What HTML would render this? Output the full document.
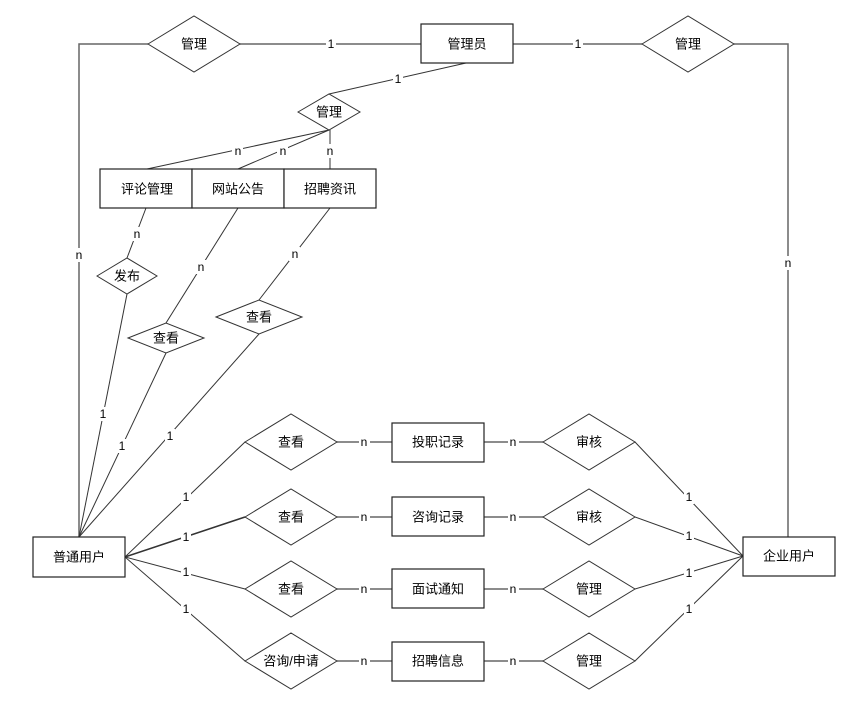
<!DOCTYPE html>
<html><head><meta charset="utf-8"><style>
html,body{margin:0;padding:0;background:#fff;}
svg{display:block;}
text{font-family:"Liberation Sans","Noto Sans CJK SC",sans-serif;font-size:13px;fill:#000;dominant-baseline:central;text-anchor:middle;}
.l{stroke:#333;stroke-width:1;fill:none;}
.g{stroke:#666;stroke-width:1.5;fill:none;}
.box{fill:#fff;stroke:#222;stroke-width:1.2;}
.d{fill:#fff;stroke:#333;stroke-width:1;}
.lb{font-size:12px;}
</style></head><body>
<svg width="868" height="704" viewBox="0 0 868 704" xmlns="http://www.w3.org/2000/svg">
<!-- outer lines -->
<polyline class="g" points="148,44 79,44 79,537"/>
<polyline class="g" points="734,44 788,44 788,537"/>
<line class="g" x1="240" y1="44" x2="421" y2="44"/>
<line class="g" x1="513" y1="44" x2="642" y2="44"/>
<line class="l" x1="466" y1="63" x2="329" y2="94"/>
<line class="l" x1="329" y1="130" x2="147" y2="169"/>
<line class="l" x1="329" y1="130" x2="238" y2="169"/>
<line class="l" x1="330" y1="130" x2="330" y2="169"/>
<line class="l" x1="146" y1="208" x2="127" y2="258"/>
<line class="l" x1="238" y1="208" x2="166" y2="323"/>
<line class="l" x1="330" y1="208" x2="259" y2="300"/>
<line class="l" x1="127" y1="294" x2="79" y2="537"/>
<line class="l" x1="166" y1="353" x2="79" y2="537"/>
<line class="l" x1="259" y1="334" x2="79" y2="537"/>
<!-- left fan -->
<line class="l" x1="125" y1="557" x2="245" y2="442"/>
<line class="l" x1="125" y1="557" x2="245" y2="517" style="stroke-width:1.6"/>
<line class="l" x1="125" y1="557" x2="245" y2="589"/>
<line class="l" x1="125" y1="557" x2="245" y2="661"/>
<!-- right fan -->
<line class="l" x1="635" y1="442" x2="743" y2="556"/>
<line class="l" x1="635" y1="517" x2="743" y2="556"/>
<line class="l" x1="635" y1="589" x2="743" y2="556"/>
<line class="l" x1="635" y1="661" x2="743" y2="556"/>
<!-- row horizontals -->
<g class="g">
<line x1="337" y1="442" x2="392" y2="442"/><line x1="484" y1="442" x2="543" y2="442"/>
<line x1="337" y1="517" x2="392" y2="517"/><line x1="484" y1="517" x2="543" y2="517"/>
<line x1="337" y1="589" x2="392" y2="589"/><line x1="484" y1="589" x2="543" y2="589"/>
<line x1="337" y1="661" x2="392" y2="661"/><line x1="484" y1="661" x2="543" y2="661"/>
</g>
<!-- diamonds -->
<polygon class="d" points="148,44 194,16 240,44 194,72"/><text x="194" y="44">管理</text>
<polygon class="d" points="642,44 688,16 734,44 688,72"/><text x="688" y="44">管理</text>
<polygon class="d" points="298,112 329,94 360,112 329,130"/><text x="329" y="112">管理</text>
<polygon class="d" points="97,276 127,258 157,276 127,294"/><text x="127" y="276">发布</text>
<polygon class="d" points="128,338 166,323 204,338 166,353"/><text x="166" y="338">查看</text>
<polygon class="d" points="216,317 259,300 302,317 259,334"/><text x="259" y="317">查看</text>
<polygon class="d" points="245,442 291,414 337,442 291,470"/><text x="291" y="442">查看</text>
<polygon class="d" points="245,517 291,489 337,517 291,545"/><text x="291" y="517">查看</text>
<polygon class="d" points="245,589 291,561 337,589 291,617"/><text x="291" y="589">查看</text>
<polygon class="d" points="245,661 291,633 337,661 291,689"/><text x="291" y="661">咨询/申请</text>
<polygon class="d" points="543,442 589,414 635,442 589,470"/><text x="589" y="442">审核</text>
<polygon class="d" points="543,517 589,489 635,517 589,545"/><text x="589" y="517">审核</text>
<polygon class="d" points="543,589 589,561 635,589 589,617"/><text x="589" y="589">管理</text>
<polygon class="d" points="543,661 589,633 635,661 589,689"/><text x="589" y="661">管理</text>
<!-- entities -->
<rect class="box" x="421" y="24" width="92" height="39"/><text x="467" y="44">管理员</text>
<rect class="box" x="100" y="169" width="92" height="39"/><text x="147" y="189">评论管理</text>
<rect class="box" x="192" y="169" width="92" height="39"/><text x="238" y="189">网站公告</text>
<rect class="box" x="284" y="169" width="92" height="39"/><text x="330" y="189">招聘资讯</text>
<rect class="box" x="33" y="537" width="92" height="40"/><text x="79" y="557">普通用户</text>
<rect class="box" x="743" y="537" width="92" height="39"/><text x="789" y="556">企业用户</text>
<rect class="box" x="392" y="423" width="92" height="39"/><text x="438" y="442">投职记录</text>
<rect class="box" x="392" y="497" width="92" height="39"/><text x="438" y="517">咨询记录</text>
<rect class="box" x="392" y="569" width="92" height="39"/><text x="438" y="589">面试通知</text>
<rect class="box" x="392" y="642" width="92" height="39"/><text x="438" y="661">招聘信息</text>
<!-- labels -->
<g class="lb">
<rect x="326" y="37" width="10" height="14" fill="#fff"/><text class="lb" x="331" y="44">1</text>
<rect x="573" y="37" width="10" height="14" fill="#fff"/><text class="lb" x="578" y="44">1</text>
<rect x="393" y="72" width="10" height="14" fill="#fff"/><text class="lb" x="398" y="79">1</text>
<rect x="232" y="144" width="11" height="14" fill="#fff"/><text class="lb" x="238" y="151">n</text>
<rect x="277" y="144" width="11" height="14" fill="#fff"/><text class="lb" x="283" y="151">n</text>
<rect x="324" y="144" width="11" height="14" fill="#fff"/><text class="lb" x="330" y="151">n</text>
<rect x="131" y="227" width="11" height="14" fill="#fff"/><text class="lb" x="137" y="234">n</text>
<rect x="195" y="260" width="11" height="14" fill="#fff"/><text class="lb" x="201" y="267">n</text>
<rect x="289" y="247" width="11" height="14" fill="#fff"/><text class="lb" x="295" y="254">n</text>
<rect x="73" y="248" width="11" height="14" fill="#fff"/><text class="lb" x="79" y="255">n</text>
<rect x="783" y="256" width="11" height="14" fill="#fff"/><text class="lb" x="788" y="263">n</text>
<rect x="98" y="407" width="10" height="14" fill="#fff"/><text class="lb" x="103" y="414">1</text>
<rect x="117" y="439" width="10" height="14" fill="#fff"/><text class="lb" x="122" y="446">1</text>
<rect x="165" y="429" width="10" height="14" fill="#fff"/><text class="lb" x="170" y="436">1</text>
<rect x="181" y="490" width="10" height="14" fill="#fff"/><text class="lb" x="186" y="497">1</text>
<rect x="181" y="530" width="10" height="14" fill="#fff"/><text class="lb" x="186" y="537">1</text>
<rect x="181" y="565" width="10" height="14" fill="#fff"/><text class="lb" x="186" y="572">1</text>
<rect x="181" y="602" width="10" height="14" fill="#fff"/><text class="lb" x="186" y="609">1</text>
<rect x="684" y="490" width="10" height="14" fill="#fff"/><text class="lb" x="689" y="497">1</text>
<rect x="684" y="529" width="10" height="14" fill="#fff"/><text class="lb" x="689" y="536">1</text>
<rect x="684" y="566" width="10" height="14" fill="#fff"/><text class="lb" x="689" y="573">1</text>
<rect x="684" y="602" width="10" height="14" fill="#fff"/><text class="lb" x="689" y="609">1</text>
<rect x="359" y="435" width="11" height="14" fill="#fff"/><text class="lb" x="364" y="442">n</text>
<rect x="508" y="435" width="11" height="14" fill="#fff"/><text class="lb" x="513" y="442">n</text>
<rect x="359" y="510" width="11" height="14" fill="#fff"/><text class="lb" x="364" y="517">n</text>
<rect x="508" y="510" width="11" height="14" fill="#fff"/><text class="lb" x="513" y="517">n</text>
<rect x="359" y="582" width="11" height="14" fill="#fff"/><text class="lb" x="364" y="589">n</text>
<rect x="508" y="582" width="11" height="14" fill="#fff"/><text class="lb" x="513" y="589">n</text>
<rect x="359" y="654" width="11" height="14" fill="#fff"/><text class="lb" x="364" y="661">n</text>
<rect x="508" y="654" width="11" height="14" fill="#fff"/><text class="lb" x="513" y="661">n</text>
</g>
</svg>
</body></html>
